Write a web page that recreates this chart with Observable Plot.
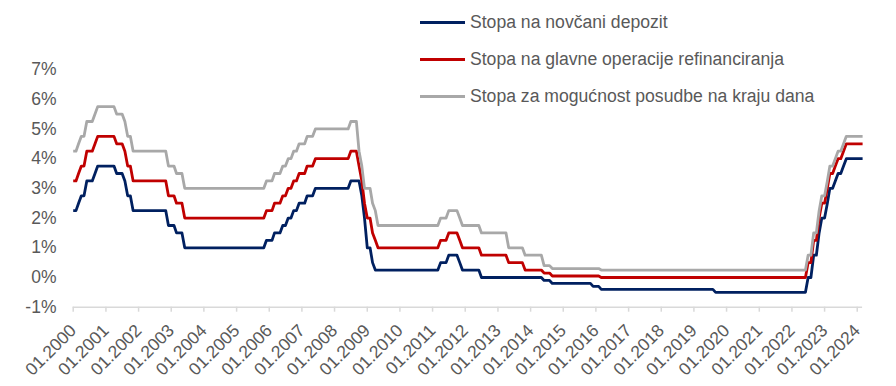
<!DOCTYPE html>
<html>
<head>
<meta charset="utf-8">
<script src="https://cdn.jsdelivr.net/npm/d3@7"></script>
<script src="https://cdn.jsdelivr.net/npm/@observablehq/plot@0.6"></script>
<style>
  html, body { margin: 0; padding: 0; background: #ffffff; }
  #wrap { position: relative; width: 896px; height: 386px; font-family: "Liberation Sans", Arial, sans-serif; }
  #chart svg { display: block; }
  .leg { position: absolute; left: 420px; height: 24px; display: flex; align-items: center; font-size: 17.6px; color: #595959; white-space: nowrap; }
  .leg .sw { width: 45px; height: 3px; margin-right: 5px; }
</style>
</head>
<body>
<div id="wrap">
  <div id="chart"></div>
  <div id="legend"></div>
</div>
<script>
// Series names (legend)
const seriesNames = [
  "Stopa na novčani depozit",
  "Stopa na glavne operacije refinanciranja",
  "Stopa za mogućnost posudbe na kraju dana"
];
const seriesColors = ["#002060", "#C00000", "#A8A8A8"];

// Monthly values, 01.2000 – 03.2024 (one row per year)
const depositRate = [
  2.25,2.25,2.5,2.75,2.75,3.25,3.25,3.25,3.5,3.75,3.75,3.75,
  3.75,3.75,3.75,3.75,3.5,3.5,3.5,3.25,2.75,2.75,2.25,2.25,
  2.25,2.25,2.25,2.25,2.25,2.25,2.25,2.25,2.25,2.25,2.25,1.75,
  1.75,1.75,1.5,1.5,1.5,1,1,1,1,1,1,1,
  1,1,1,1,1,1,1,1,1,1,1,1,
  1,1,1,1,1,1,1,1,1,1,1,1.25,
  1.25,1.25,1.5,1.5,1.5,1.75,1.75,2,2,2.25,2.25,2.5,
  2.5,2.5,2.75,2.75,2.75,3,3,3,3,3,3,3,
  3,3,3,3,3,3,3.25,3.25,3.25,3.25,2.75,2,
  1,1,0.5,0.25,0.25,0.25,0.25,0.25,0.25,0.25,0.25,0.25,
  0.25,0.25,0.25,0.25,0.25,0.25,0.25,0.25,0.25,0.25,0.25,0.25,
  0.25,0.25,0.25,0.5,0.5,0.5,0.75,0.75,0.75,0.75,0.5,0.25,
  0.25,0.25,0.25,0.25,0.25,0.25,0,0,0,0,0,0,
  0,0,0,0,0,0,0,0,0,0,0,0,
  0,0,0,0,0,-0.1,-0.1,-0.1,-0.2,-0.2,-0.2,-0.2,
  -0.2,-0.2,-0.2,-0.2,-0.2,-0.2,-0.2,-0.2,-0.2,-0.2,-0.2,-0.3,
  -0.3,-0.3,-0.4,-0.4,-0.4,-0.4,-0.4,-0.4,-0.4,-0.4,-0.4,-0.4,
  -0.4,-0.4,-0.4,-0.4,-0.4,-0.4,-0.4,-0.4,-0.4,-0.4,-0.4,-0.4,
  -0.4,-0.4,-0.4,-0.4,-0.4,-0.4,-0.4,-0.4,-0.4,-0.4,-0.4,-0.4,
  -0.4,-0.4,-0.4,-0.4,-0.4,-0.4,-0.4,-0.4,-0.5,-0.5,-0.5,-0.5,
  -0.5,-0.5,-0.5,-0.5,-0.5,-0.5,-0.5,-0.5,-0.5,-0.5,-0.5,-0.5,
  -0.5,-0.5,-0.5,-0.5,-0.5,-0.5,-0.5,-0.5,-0.5,-0.5,-0.5,-0.5,
  -0.5,-0.5,-0.5,-0.5,-0.5,-0.5,0,0,0.75,0.75,1.5,2,
  2,2.5,3,3,3.25,3.5,3.5,3.75,4,4,4,4,
  4,4,4
];
const mainRefiRate = [
  3.25,3.25,3.5,3.75,3.75,4.25,4.25,4.25,4.5,4.75,4.75,4.75,
  4.75,4.75,4.75,4.75,4.5,4.5,4.5,4.25,3.75,3.75,3.25,3.25,
  3.25,3.25,3.25,3.25,3.25,3.25,3.25,3.25,3.25,3.25,3.25,2.75,
  2.75,2.75,2.5,2.5,2.5,2,2,2,2,2,2,2,
  2,2,2,2,2,2,2,2,2,2,2,2,
  2,2,2,2,2,2,2,2,2,2,2,2.25,
  2.25,2.25,2.5,2.5,2.5,2.75,2.75,3,3,3.25,3.25,3.5,
  3.5,3.5,3.75,3.75,3.75,4,4,4,4,4,4,4,
  4,4,4,4,4,4,4.25,4.25,4.25,3.75,3.25,2.5,
  2,2,1.5,1.25,1,1,1,1,1,1,1,1,
  1,1,1,1,1,1,1,1,1,1,1,1,
  1,1,1,1.25,1.25,1.25,1.5,1.5,1.5,1.5,1.25,1,
  1,1,1,1,1,1,0.75,0.75,0.75,0.75,0.75,0.75,
  0.75,0.75,0.75,0.75,0.5,0.5,0.5,0.5,0.5,0.5,0.25,0.25,
  0.25,0.25,0.25,0.25,0.25,0.15,0.15,0.15,0.05,0.05,0.05,0.05,
  0.05,0.05,0.05,0.05,0.05,0.05,0.05,0.05,0.05,0.05,0.05,0.05,
  0.05,0.05,0,0,0,0,0,0,0,0,0,0,
  0,0,0,0,0,0,0,0,0,0,0,0,
  0,0,0,0,0,0,0,0,0,0,0,0,
  0,0,0,0,0,0,0,0,0,0,0,0,
  0,0,0,0,0,0,0,0,0,0,0,0,
  0,0,0,0,0,0,0,0,0,0,0,0,
  0,0,0,0,0,0,0.5,0.5,1.25,1.25,2,2.5,
  2.5,3,3.5,3.5,3.75,4,4,4.25,4.5,4.5,4.5,4.5,
  4.5,4.5,4.5
];
const marginalLendingRate = [
  4.25,4.25,4.5,4.75,4.75,5.25,5.25,5.25,5.5,5.75,5.75,5.75,
  5.75,5.75,5.75,5.75,5.5,5.5,5.5,5.25,4.75,4.75,4.25,4.25,
  4.25,4.25,4.25,4.25,4.25,4.25,4.25,4.25,4.25,4.25,4.25,3.75,
  3.75,3.75,3.5,3.5,3.5,3,3,3,3,3,3,3,
  3,3,3,3,3,3,3,3,3,3,3,3,
  3,3,3,3,3,3,3,3,3,3,3,3.25,
  3.25,3.25,3.5,3.5,3.5,3.75,3.75,4,4,4.25,4.25,4.5,
  4.5,4.5,4.75,4.75,4.75,5,5,5,5,5,5,5,
  5,5,5,5,5,5,5.25,5.25,5.25,4.25,3.75,3,
  3,3,2.5,2.25,1.75,1.75,1.75,1.75,1.75,1.75,1.75,1.75,
  1.75,1.75,1.75,1.75,1.75,1.75,1.75,1.75,1.75,1.75,1.75,1.75,
  1.75,1.75,1.75,2,2,2,2.25,2.25,2.25,2.25,2,1.75,
  1.75,1.75,1.75,1.75,1.75,1.75,1.5,1.5,1.5,1.5,1.5,1.5,
  1.5,1.5,1.5,1.5,1,1,1,1,1,1,0.75,0.75,
  0.75,0.75,0.75,0.75,0.75,0.4,0.4,0.4,0.3,0.3,0.3,0.3,
  0.3,0.3,0.3,0.3,0.3,0.3,0.3,0.3,0.3,0.3,0.3,0.3,
  0.3,0.3,0.25,0.25,0.25,0.25,0.25,0.25,0.25,0.25,0.25,0.25,
  0.25,0.25,0.25,0.25,0.25,0.25,0.25,0.25,0.25,0.25,0.25,0.25,
  0.25,0.25,0.25,0.25,0.25,0.25,0.25,0.25,0.25,0.25,0.25,0.25,
  0.25,0.25,0.25,0.25,0.25,0.25,0.25,0.25,0.25,0.25,0.25,0.25,
  0.25,0.25,0.25,0.25,0.25,0.25,0.25,0.25,0.25,0.25,0.25,0.25,
  0.25,0.25,0.25,0.25,0.25,0.25,0.25,0.25,0.25,0.25,0.25,0.25,
  0.25,0.25,0.25,0.25,0.25,0.25,0.75,0.75,1.5,1.5,2.25,2.75,
  2.75,3.25,3.75,3.75,4,4.25,4.25,4.5,4.75,4.75,4.75,4.75,
  4.75,4.75,4.75
];

// Axis ticks
const yTicks = [-1, 0, 1, 2, 3, 4, 5, 6, 7];
const xTickLabels = ["01.2000","01.2001","01.2002","01.2003","01.2004","01.2005","01.2006","01.2007","01.2008","01.2009","01.2010","01.2011","01.2012","01.2013","01.2014","01.2015","01.2016","01.2017","01.2018","01.2019","01.2020","01.2021","01.2022","01.2023","01.2024"];

// Build tidy table
const start = new Date(Date.UTC(2000, 0, 1));
const end = new Date(Date.UTC(2024, 2, 1));
const months = d3.utcMonth.range(start, d3.utcMonth.offset(end, 1));
const seriesValues = [depositRate, mainRefiRate, marginalLendingRate];
const rows = [];
seriesValues.forEach((vals, s) => {
  vals.forEach((v, i) => rows.push({date: months[i], value: v, series: seriesNames[s]}));
});
const parseTick = s => new Date(Date.UTC(+s.slice(3), +s.slice(0, 2) - 1, 1));
const xTicks = xTickLabels.map(parseTick);

const W = 896, H = 386;
const plot = Plot.plot({
  width: W,
  height: H,
  marginLeft: 72.7,
  marginRight: 33.9,
  marginTop: 69,
  marginBottom: 79.3,
  style: {fontFamily: '"Liberation Sans", Arial, sans-serif', background: "#ffffff"},
  x: {type: "utc", domain: [start, end], axis: null},
  y: {domain: [-1, 7], axis: null},
  color: {domain: seriesNames, range: seriesColors},
  marks: [
    Plot.ruleY([-1], {stroke: "#D9D9D9", strokeWidth: 1.5}),
    Plot.axisX({ticks: xTicks, tickSize: 5, tickFormat: () => "", stroke: "#D9D9D9", strokeWidth: 1.5}),
    Plot.text(xTicks, {x: d => d, text: (d, i) => xTickLabels[i], frameAnchor: "bottom", dy: 20.5, rotate: -45, textAnchor: "end", lineAnchor: "middle", fill: "#595959", fontSize: 17.5}),
    Plot.text(yTicks, {y: d => d, text: d => d + "%", frameAnchor: "left", dx: -16.7, textAnchor: "end", fill: "#595959", fontSize: 17.5}),
    Plot.line(rows, {x: "date", y: "value", z: "series", stroke: "series", strokeWidth: 2.8, strokeLinejoin: "round", strokeLinecap: "butt"})
  ]
});
document.getElementById("chart").appendChild(plot);

// Legend (HTML overlay)
const legendY = [22.7, 59.3, 96.7];
const legend = document.getElementById("legend");
seriesNames.forEach((name, i) => {
  const d = document.createElement("div");
  d.className = "leg";
  d.style.top = (legendY[i] - 12) + "px";
  const sw = document.createElement("span");
  sw.className = "sw";
  sw.style.background = seriesColors[i];
  const t = document.createElement("span");
  t.textContent = name;
  d.appendChild(sw);
  d.appendChild(t);
  legend.appendChild(d);
});
</script>
</body>
</html>
